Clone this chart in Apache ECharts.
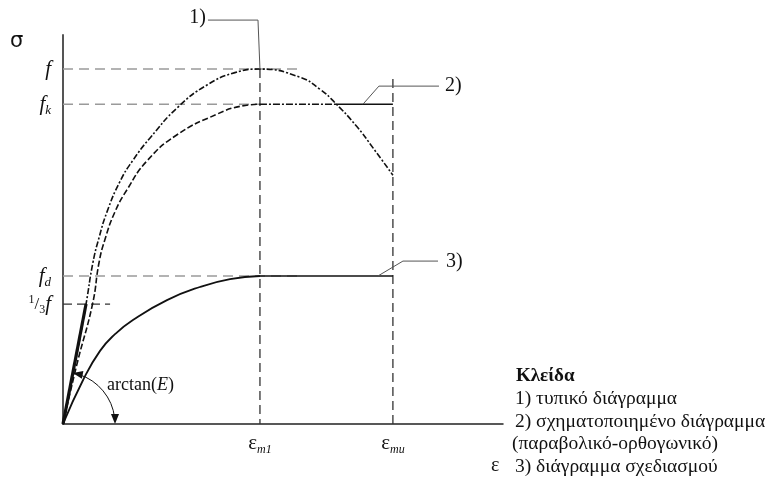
<!DOCTYPE html>
<html>
<head>
<meta charset="utf-8">
<script src="https://cdn.jsdelivr.net/npm/echarts@6/dist/echarts.min.js"></script>
<style>
  html, body { margin: 0; padding: 0; background: #fff; }
  #chart { width: 783px; height: 479px; }
</style>
</head>
<body>
<div id="chart"></div>
<script>
// Strain values (normalised by eps_m1) and stress values (normalised by f)
const epsM1 = 1.0;
const epsMu = 1.675;
const xMax = 2.234;
const yMax = 1.096;

const fVal = 1.0;
const fkVal = 0.901;
const fdVal = 0.417;
const fThirdVal = 0.338;

// 1) typical stress-strain curve
const curveTypical = [
  [0, 0], [0.061, 0.169], [0.117, 0.338], [0.152, 0.455], [0.183, 0.525],
  [0.223, 0.597], [0.289, 0.683], [0.355, 0.743], [0.442, 0.806],
  [0.584, 0.893], [0.731, 0.955], [0.873, 0.990], [1.0, 1.0],
  [1.203, 0.977], [1.305, 0.943], [1.381, 0.905], [1.492, 0.838],
  [1.574, 0.778], [1.675, 0.701]
];

// 2) idealised parabola-rectangle curve
const curveIdealised = [
  [0, 0], [0.071, 0.169], [0.15, 0.338], [0.183, 0.455], [0.213, 0.520],
  [0.264, 0.598], [0.325, 0.660], [0.426, 0.741], [0.579, 0.815],
  [0.782, 0.873], [0.898, 0.895], [1.0, 0.901]
];
const plateauIdealised = [[1.0, 0.901], [1.381, 0.901], [1.675, 0.901]];

// 3) design curve
const curveDesign = [
  [0, 0], [0.102, 0.124], [0.188, 0.206], [0.264, 0.253], [0.355, 0.293],
  [0.528, 0.349], [0.695, 0.386], [0.848, 0.408], [1.0, 0.417]
];
const plateauDesign = [[1.0, 0.417], [1.675, 0.417]];

// Elastic modulus line
const modulusLine = [[0, 0], [0.117, 0.338]];

// Reference levels
const refF = [[0, fVal], [1.193, fVal]];
const refFk = [[0, fkVal], [1.0, fkVal]];
const refFd = [[0, fdVal], [1.19, fdVal]];
const refFThird = [[0, fThirdVal], [0.239, fThirdVal]];
const refEpsM1 = [[epsM1, fVal], [epsM1, 0]];
const refEpsMu = [[epsMu, 0.972], [epsMu, 0]];

// Leader lines to the curve numbers
const leader1 = [[1.0, 1.0], [0.990, 1.138], [0.736, 1.138]];
const leader2 = [[1.523, 0.901], [1.604, 0.952], [1.909, 0.952]];
const leader3 = [[1.599, 0.417], [1.726, 0.459], [1.904, 0.459]];

const yTickValues = [fVal, fkVal, fdVal, fThirdVal];
const yTickLabels = ['{it|f}', '{it|f}{sub|k}', '{it|f}{sub|d}', '{sup|1}{sl|/}{sub3|3}{it|f}'];
const xTickValues = [epsM1, epsMu];
const xTickLabels = ['{eps|ε}{sub|m1}', '{eps|ε}{sub|mu}'];

const legendTitle = 'Κλείδα';
const legendLines = [
  '1) τυπικό διάγραμμα',
  '2) σχηματοποιημένο διάγραμμα',
  '(παραβολικό-ορθογωνικό)',
  '3) διάγραμμα σχεδιασμού'
];

const serif = '"Liberation Serif", "DejaVu Serif", serif';
const ink = '#111';

function lineSeries(data, style, extra) {
  return Object.assign({
    type: 'line', data: data, showSymbol: false, symbol: 'none',
    clip: false, silent: true, animation: false,
    lineStyle: style
  }, extra || {});
}

function pickLabel(values, labels, v) {
  for (let i = 0; i < values.length; i++) {
    if (Math.abs(values[i] - v) < 1e-6) return labels[i];
  }
  return '';
}

const chart = echarts.init(document.getElementById('chart'), null, { renderer: 'canvas' });

chart.setOption({
  animation: false,
  backgroundColor: '#fff',
  grid: { left: 63, right: 280, top: 35, bottom: 55, containLabel: false },
  xAxis: {
    type: 'value', min: 0, max: xMax,
    splitLine: { show: false },
    axisLine: { show: true, lineStyle: { color: '#222', width: 1.5 } },
    axisTick: { show: false },
    axisLabel: {
      customValues: xTickValues,
      margin: 7,
      formatter: v => pickLabel(xTickValues, xTickLabels, v),
      rich: {
        eps: { fontFamily: serif, fontSize: 21, color: ink },
        sub: { fontFamily: serif, fontSize: 12, fontStyle: 'italic', color: ink, padding: [13, 0, 0, 0] }
      }
    }
  },
  yAxis: {
    type: 'value', min: 0, max: yMax,
    splitLine: { show: false },
    axisLine: { show: true, lineStyle: { color: '#555', width: 2 } },
    axisTick: { show: false },
    axisLabel: {
      customValues: yTickValues,
      margin: 12,
      formatter: v => pickLabel(yTickValues, yTickLabels, v),
      rich: {
        it: { fontFamily: serif, fontSize: 21, fontStyle: 'italic', color: ink },
        sub: { fontFamily: serif, fontSize: 13, fontStyle: 'italic', color: ink, padding: [13, 0, 0, 0] },
        sup: { fontFamily: serif, fontSize: 12, color: ink, padding: [0, 0, 8, 0] },
        sl: { fontFamily: serif, fontSize: 17, color: ink },
        sub3: { fontFamily: serif, fontSize: 12, color: ink, padding: [11, 0, 0, 0] }
      }
    }
  },
  series: [
    lineSeries(refF, { color: '#9a9a9a', width: 1.5, type: [10, 6] }),
    lineSeries(refFk, { color: '#9a9a9a', width: 1.5, type: [10, 6] }),
    lineSeries(refFd, { color: '#9a9a9a', width: 1.5, type: [10, 6] }),
    lineSeries(refFThird, { color: '#333', width: 1.3, type: [9, 5] }),
    lineSeries(refEpsM1, { color: '#333', width: 1.3, type: [9, 5] }),
    lineSeries(refEpsMu, { color: '#333', width: 1.3, type: [9, 5] }),
    lineSeries(curveTypical, { color: ink, width: 1.6, type: [6, 2, 2, 2] }, { smooth: 0.5 }),
    lineSeries(curveIdealised, { color: ink, width: 1.6, type: [6, 2.5] }, { smooth: 0.5 }),
    lineSeries(plateauIdealised.slice(0, 2), { color: ink, width: 1.4, type: [7, 2, 2, 2] }),
    lineSeries(plateauIdealised.slice(1), { color: ink, width: 1.4, type: 'solid' }),
    lineSeries(curveDesign, { color: ink, width: 1.8, type: 'solid' }, { smooth: 0.5 }),
    lineSeries(plateauDesign, { color: ink, width: 1.6, type: 'solid' }),
    lineSeries(modulusLine, { color: ink, width: 3.2, type: 'solid' }),
    lineSeries(leader1, { color: '#555', width: 1, type: 'solid' }),
    lineSeries(leader2, { color: '#555', width: 1, type: 'solid' }),
    lineSeries(leader3, { color: '#555', width: 1, type: 'solid' })
  ]
});

// Annotations placed from the axis scales
const px = p => chart.convertToPixel({ gridIndex: 0 }, p);
const origin = px([0, 0]);
const modTop = px(modulusLine[1]);
const arcR = 52;
const startAng = Math.atan2(modTop[1] - origin[1], modTop[0] - origin[0]);
const endAng = 0;

function arrowHead(tip, dir, len, half) {
  const bx = tip[0] - dir[0] * len, by = tip[1] - dir[1] * len;
  const nx = -dir[1], ny = dir[0];
  return [[tip[0], tip[1]], [bx + nx * half, by + ny * half], [bx - nx * half, by - ny * half]];
}
const tipStart = [origin[0] + arcR * Math.cos(startAng), origin[1] + arcR * Math.sin(startAng)];
const tipEnd = [origin[0] + arcR * Math.cos(endAng), origin[1] + arcR * Math.sin(endAng)];
const dirStart = [Math.sin(startAng), -Math.cos(startAng)];
const dirEnd = [-Math.sin(endAng), Math.cos(endAng)];

const l1 = px(leader1[2]);
const l2 = px(leader2[2]);
const l3 = px(leader3[2]);
const yTop = px([0, yMax]);
const xEnd = px([xMax, 0]);

const graphics = [
  { type: 'arc', shape: { cx: origin[0], cy: origin[1], r: arcR, startAngle: startAng + 0.12, endAngle: endAng - 0.12, clockwise: true },
    style: { stroke: ink, lineWidth: 1, fill: null } },
  { type: 'polygon', shape: { points: arrowHead(tipStart, dirStart, 10, 4) }, style: { fill: ink } },
  { type: 'polygon', shape: { points: arrowHead(tipEnd, dirEnd, 10, 4) }, style: { fill: ink } },
  { type: 'text', x: origin[0] + 44, y: origin[1] - 39,
    style: { rich: { a: { fontFamily: serif, fontSize: 18, fill: ink }, e: { fontFamily: serif, fontSize: 18, fontStyle: 'italic', fill: ink } },
      text: '{a|arctan(}{e|E}{a|)}', verticalAlign: 'middle' } },
  { type: 'text', x: l1[0] - 2, y: l1[1] - 2,
    style: { text: '1)', fontFamily: serif, fontSize: 20, fill: ink, align: 'right', verticalAlign: 'middle' } },
  { type: 'text', x: l2[0] + 6, y: l2[1],
    style: { text: '2)', fontFamily: serif, fontSize: 20, fill: ink, align: 'left', verticalAlign: 'middle' } },
  { type: 'text', x: l3[0] + 8, y: l3[1] + 1,
    style: { text: '3)', fontFamily: serif, fontSize: 20, fill: ink, align: 'left', verticalAlign: 'middle' } },
  { type: 'text', x: yTop[0] - 53, y: yTop[1] + 7,
    style: { text: 'σ', fontFamily: '"DejaVu Sans", sans-serif', fontSize: 21, fill: ink, align: 'left', verticalAlign: 'middle' } },
  { type: 'text', x: xEnd[0] - 12, y: xEnd[1] + 42,
    style: { text: 'ε', fontFamily: serif, fontSize: 20, fill: ink, align: 'left', verticalAlign: 'middle' } },
  { type: 'text', x: xEnd[0] + 13, y: xEnd[1] - 48,
    style: { text: legendTitle, fontFamily: serif, fontSize: 19, fontWeight: 'bold', fill: ink, align: 'left', verticalAlign: 'middle' } }
];
legendLines.forEach((t, i) => {
  graphics.push({ type: 'text', x: xEnd[0] + (i === 2 ? 9 : 12), y: xEnd[1] - 25 + i * 22.5,
    style: { text: t, fontFamily: serif, fontSize: 19.5, fill: ink, align: 'left', verticalAlign: 'middle' } });
});
chart.setOption({ graphic: graphics });
</script>
</body>
</html>
